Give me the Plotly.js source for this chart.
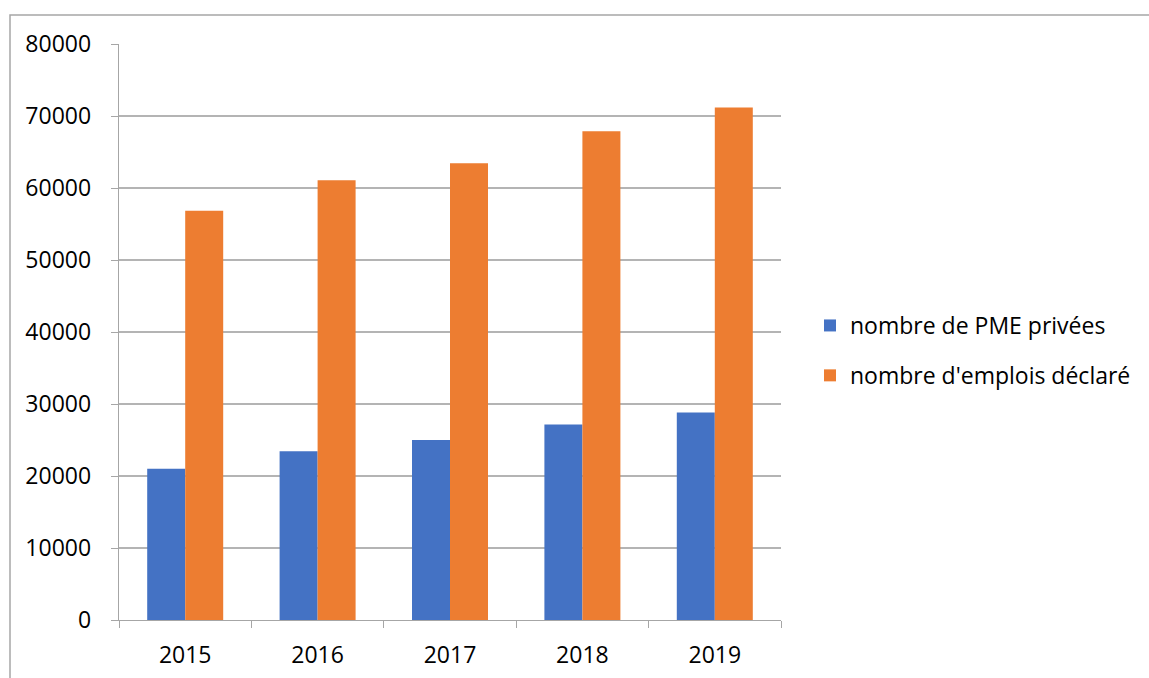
<!DOCTYPE html>
<html>
<head>
<meta charset="utf-8">
<script src="https://cdn.plot.ly/plotly-3.0.1.min.js"></script>
<style>
html,body{margin:0;padding:0;background:#fff;}
#chart{width:1149px;height:678px;}
</style>
</head>
<body>
<div id="chart"></div>
<script>
const years = ['2015', '2016', '2017', '2018', '2019'];
const pmePrivees = [21000, 23450, 25000, 27150, 28820];
const emploisDeclares = [56850, 61080, 63430, 67870, 71170];
const seriesNames = ['nombre de PME privées', "nombre d'emplois déclaré"];
const yTicks = [0, 10000, 20000, 30000, 40000, 50000, 60000, 70000, 80000];

const FONT = 'Open Sans, Liberation Sans, sans-serif';
const FS = 23;
const data = [
  {type: 'bar', x: years, y: pmePrivees, name: seriesNames[0], legendgroup: 'a', marker: {color: '#4472C4'}},
  {type: 'bar', x: years, y: emploisDeclares, name: seriesNames[1], legendgroup: 'b', marker: {color: '#ED7D31'}}
];

const W = 1149, H = 678, L = 119, R = 781, T = 44, B = 620;
const pw = R - L, ph = B - T;
const px = v => (v - L) / pw;
const py = v => (B - v) / ph;

const layout = {
  width: W, height: H,
  margin: {l: L, r: W - R, t: T, b: H - B, pad: 0},
  paper_bgcolor: '#ffffff', plot_bgcolor: '#ffffff',
  font: {family: FONT, size: FS, color: '#000000'},
  barmode: 'group', bargap: 0.426, bargroupgap: 0,
  showlegend: true,
  legend: {x: px(810), y: py(350.5), xanchor: 'left', yanchor: 'middle',
           font: {family: FONT, size: FS, color: '#000'}, tracegroupgap: 17,
           traceorder: 'grouped', itemwidth: 30, bgcolor: 'rgba(0,0,0,0)'},
  xaxis: {
    type: 'category', tickson: 'boundaries', ticks: 'outside', ticklen: 7, tickcolor: '#a6a6a6',
    showline: true, linecolor: '#a6a6a6', linewidth: 1.3, showgrid: false,
    tickfont: {family: FONT, size: FS, color: '#000'}, ticklabelstandoff: 14, fixedrange: true
  },
  yaxis: {
    range: [0, 80000], tickvals: yTicks, ticktext: yTicks.map(String),
    ticks: 'outside', ticklen: 7, tickcolor: '#a6a6a6',
    showline: true, linecolor: '#a6a6a6', linewidth: 1.3,
    showgrid: true, gridcolor: '#b4b4b4', gridwidth: 1.3, zeroline: false,
    tickfont: {family: FONT, size: FS, color: '#000'}, ticklabelstandoff: 15, fixedrange: true
  },
  shapes: [
    {type: 'path', xref: 'paper', yref: 'paper', layer: 'above',
     path: `M ${px(10)} ${py(700)} L ${px(10)} ${py(15)} L ${px(1160)} ${py(15)}`,
     line: {color: '#a6a6a6', width: 1.5}}
  ]
};

Plotly.newPlot('chart', data, layout, {displayModeBar: false, staticPlot: true});
</script>
</body>
</html>
